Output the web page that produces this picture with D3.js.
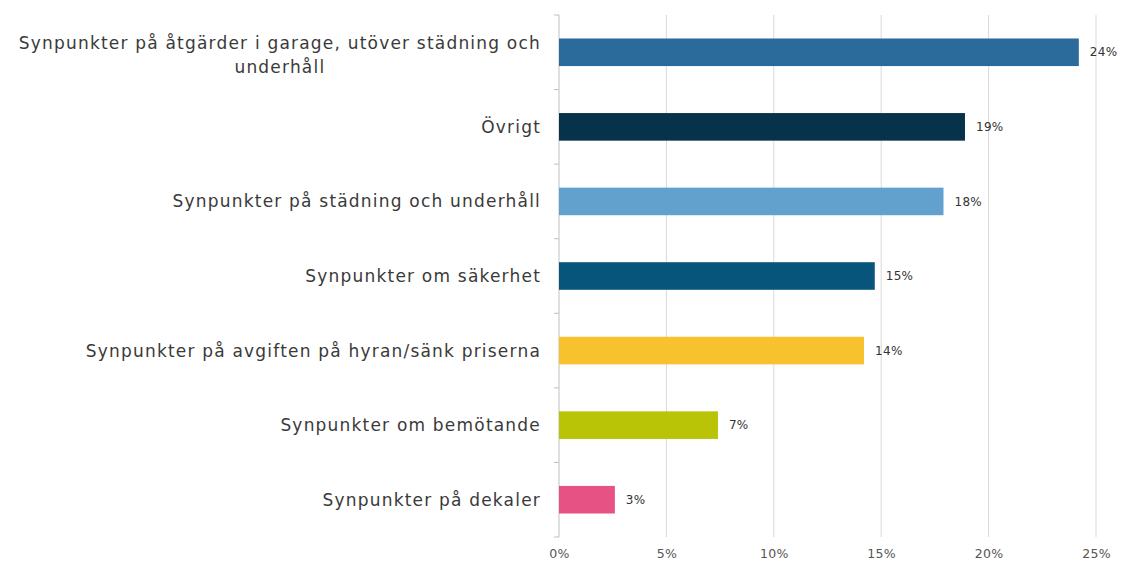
<html>
<head>
<meta charset="utf-8">
<style>
body { margin: 0; background: #fff; }
.cat text { font: 17px "DejaVu Sans", sans-serif; fill: #3a3a3a; letter-spacing: 1.2px; }
.val { font: 12px "DejaVu Sans", sans-serif; fill: #333; letter-spacing: 0.3px; }
.axis text { font: 12.5px "DejaVu Sans", sans-serif; fill: #555; letter-spacing: 0.3px; }
.grid line { stroke: #d9d9d9; }
</style>
</head>
<body>
<svg width="1124" height="563"></svg>
<script src="https://cdn.jsdelivr.net/npm/d3@7"></script>
<script>

// data
var categories = [
  "Synpunkter på åtgärder i garage, utöver städning och underhåll",
  "Övrigt",
  "Synpunkter på städning och underhåll",
  "Synpunkter om säkerhet",
  "Synpunkter på avgiften på hyran/sänk priserna",
  "Synpunkter om bemötande",
  "Synpunkter på dekaler"
];
var values = [24.2, 18.9, 17.9, 14.7, 14.2, 7.4, 2.6];
var valueLabels = ["24%", "19%", "18%", "15%", "14%", "7%", "3%"];
var barColors = ["#2a6b9c", "#06324a", "#62a0cd", "#07557b", "#f8c22e", "#b8c405", "#e65283"];
var ticks = [0, 5, 10, 15, 20, 25];

var svg = d3.select("svg"),
    m = {left: 559, right: 1096, top: 15, bottom: 537};

var x = d3.scaleLinear().domain([0, 25]).range([m.left, m.right]);
var y = d3.scaleBand().domain(categories).range([m.top, m.bottom])
  .paddingInner(0.63).paddingOuter(0.315);

// gridlines
svg.append("g").attr("class", "grid")
  .selectAll("line").data(ticks.slice(1)).enter().append("line")
  .attr("x1", d => x(d)).attr("x2", d => x(d))
  .attr("y1", m.top).attr("y2", m.bottom);

// x tick labels
svg.append("g").attr("class", "axis")
  .attr("transform", "translate(0," + (m.bottom + 9) + ")")
  .call(d3.axisBottom(x).tickValues(ticks).tickSize(0).tickFormat(d => d + "%"))
  .call(g => g.select(".domain").remove());

// y axis line with band ticks
var step = y.step();
var yAxis = svg.append("g").attr("class", "yaxis");
yAxis.append("line")
  .attr("x1", m.left).attr("x2", m.left).attr("y1", m.top).attr("y2", m.bottom)
  .attr("stroke", "#bfbfbf");
yAxis.selectAll(".tk").data(d3.range(categories.length + 1)).enter().append("line")
  .attr("class", "tk")
  .attr("x1", m.left - 5).attr("x2", m.left)
  .attr("y1", i => m.top + i * step).attr("y2", i => m.top + i * step)
  .attr("stroke", "#bfbfbf");

// bars
svg.append("g").selectAll("rect").data(categories).enter().append("rect")
  .attr("x", x(0))
  .attr("y", d => y(d))
  .attr("width", (d, i) => x(values[i]) - x(0))
  .attr("height", y.bandwidth())
  .attr("fill", (d, i) => barColors[i]);

// value labels
svg.append("g").selectAll("text").data(categories).enter().append("text")
  .attr("class", "val")
  .attr("x", (d, i) => x(values[i]) + 11)
  .attr("y", d => y(d) + y.bandwidth() / 2)
  .attr("dy", "0.35em")
  .text((d, i) => valueLabels[i]);

// category labels
var labelX = m.left - 18;
var cat = svg.append("g").attr("class", "cat");
categories.forEach(function(c) {
  var cy = y(c) + y.bandwidth() / 2;
  var t = cat.append("text").attr("text-anchor", "end")
    .attr("x", labelX).attr("y", cy).attr("dy", "0.35em").text(c);
  if (t.node().getComputedTextLength() > 535) {
    // wrap into two lines, second centered under first
    var words = c.split(" ");
    var line2 = words.pop();
    var line1 = words.join(" ");
    t.text(line1).attr("y", cy - 9);
    var w = t.node().getComputedTextLength();
    cat.append("text").attr("text-anchor", "middle")
      .attr("x", labelX - w / 2).attr("y", cy + 15).attr("dy", "0.35em")
      .text(line2);
  }
});

</script>
</body>
</html>
